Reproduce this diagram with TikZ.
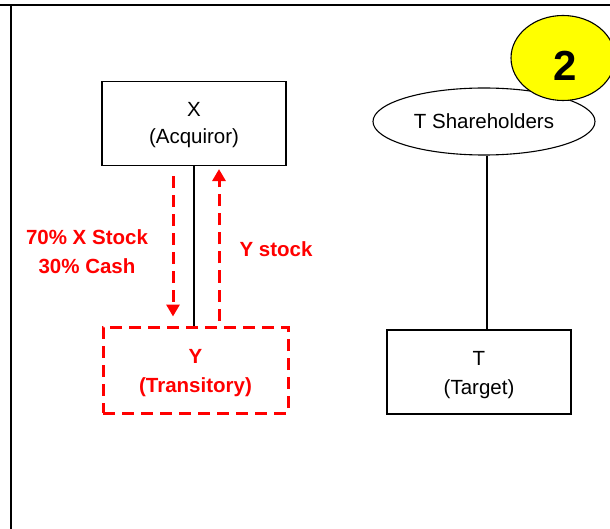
\documentclass[tikz,border=0pt]{standalone}
\usepackage{fontspec}
\setmainfont{Liberation Sans}
\usetikzlibrary{shapes.geometric,arrows.meta}
\definecolor{flowred}{RGB}{255,0,0}
\definecolor{badgeyellow}{RGB}{255,255,0}
\tikzset{
  entity/.style={draw=black, line width=1.1pt, minimum width=184pt, minimum height=84pt,
    inner sep=0pt},
  entitytext/.style={align=center, font=\fontsize{20.5}{27}\selectfont, inner sep=0pt},
  transit/.style={draw=flowred, line width=3pt, dash pattern=on 12pt off 7pt,
    minimum width=185pt, minimum height=86pt, inner sep=0pt},
  transittext/.style={align=center, text=flowred,
    font=\bfseries\fontsize{20.5}{29}\selectfont, inner sep=0pt},
  holders/.style={ellipse, draw=black, line width=1.1pt, minimum width=222pt,
    minimum height=67pt, font=\fontsize{20.5}{24}\selectfont, inner sep=0pt},
  flow/.style={draw=flowred, line width=3pt, dash pattern=on 12pt off 7pt,
    -{Triangle[length=12pt,width=13pt]}},
  flowlabel/.style={text=flowred, font=\bfseries\fontsize{20.5}{29}\selectfont, align=center},
  link/.style={draw=black, line width=1.1pt},
  frame/.style={draw=black, line width=2.8pt}
}
\begin{document}
\begin{tikzpicture}[x=1pt, y=-1pt]
  \useasboundingbox (0,0) rectangle (610,529);
  % outer frame lines
  \coordinate (fl) at (0,5);
  \coordinate (fr) at (610,5);
  \coordinate (vt) at (11,5);
  \coordinate (vb) at (11,529);
  \draw[frame] (fl) -- (fr);
  \draw[frame] (vt) -- (vb);

  % acquiror and transitory subsidiary
  \node[entity] (X) at (194,123.5) {};
  \node[entitytext] (Xt) at ([yshift=-2pt]X.center) {X\\(Acquiror)};
  \node[transit] (Y) at (195.5,370) {};
  \node[transittext] (Yt) at ([yshift=-3pt]Y.center) {Y\\(Transitory)};
  \draw[link] (X.south) -- (X.south |- Y.north);

  % consideration flows
  \draw[flow] ([xshift=-21pt,yshift=-10pt]X.south) -- ([xshift=-22.5pt,yshift=9pt]Y.north);
  \draw[flow] ([xshift=23.5pt,yshift=5pt]Y.north) -- ([xshift=25pt,yshift=-3pt]X.south);
  \node[flowlabel] (pay) at (87,252) {70\% X Stock\\30\% Cash};
  \node[flowlabel] (ystk) at (276,249) {Y stock};

  % target side
  \node[holders] (TS) at (484,121.5) {T Shareholders};
  \node[entity] (T) at (479,372) {};
  \node[entitytext, font=\fontsize{20.5}{29}\selectfont] (Tt) at ([yshift=-3pt]T.center) {T\\(Target)};
  \draw[link] ([xshift=3pt]TS.south) -- ([xshift=3pt]TS.south |- T.north);

  % step badge
  \begin{scope}
    \clip (0,0) rectangle (610,529);
    \node[ellipse, draw=black, line width=1.1pt, fill=badgeyellow, minimum width=104pt,
      minimum height=85pt, inner sep=0pt] (badge) at (563,58) {};
    \node[font=\bfseries\fontsize{42}{42}\selectfont, inner sep=0pt]
      (num) at ([xshift=2pt,yshift=-8pt]badge.center) {2};
  \end{scope}
\end{tikzpicture}
\end{document}
